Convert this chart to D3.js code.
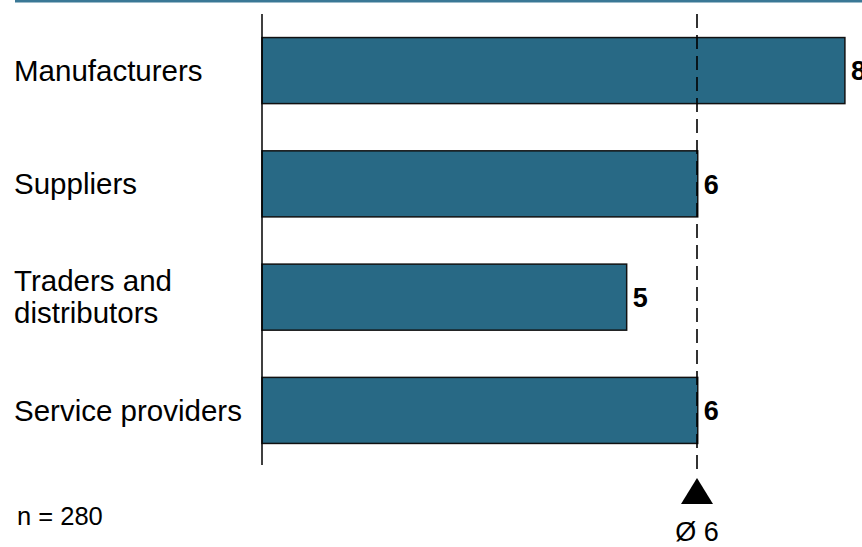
<!DOCTYPE html>
<html><head><meta charset="utf-8">
<script src="https://cdn.jsdelivr.net/npm/d3@7"></script>
<style>
html,body{margin:0;padding:0;background:#fff;}
svg{display:block;font-family:"Liberation Sans",Arial,sans-serif;}
</style></head>
<body>
<svg id="chart" width="862" height="547"></svg>
<script>
const categories = ["Manufacturers", "Suppliers", "Traders and\ndistributors", "Service providers"];
const values = [8.04, 6.01, 5.03, 6.01];
const valueLabels = ["8", "6", "5", "6"];
const average = 6;
const averageLabel = "Ø 6";
const sampleNote = "n = 280";

const svg = d3.select("#chart");
const x = d3.scaleLinear().domain([0, 6]).range([262, 697]);
const y = d3.scaleBand().domain(categories).range([14, 467]).paddingInner(0.417).paddingOuter(0.208);

// top rule
svg.append("rect").attr("x", 15).attr("y", 0).attr("width", 847).attr("height", 2.5).attr("fill", "#3a7896");

// bars
svg.selectAll("rect.bar").data(categories).join("rect")
  .attr("class","bar")
  .attr("x", x(0))
  .attr("y", d => y(d))
  .attr("width", (d,i) => x(values[i]) - x(0))
  .attr("height", y.bandwidth())
  .attr("fill", "#286985")
  .attr("stroke", "#111")
  .attr("stroke-width", 1.5);

// axis line
svg.append("line").attr("x1", x(0)).attr("x2", x(0)).attr("y1", 14).attr("y2", 465)
  .attr("stroke", "#000").attr("stroke-width", 1.5);

// average dashed line
svg.append("line").attr("x1", x(average)).attr("x2", x(average)).attr("y1", 14).attr("y2", 470)
  .attr("stroke", "#000").attr("stroke-width", 1.6).attr("stroke-dasharray", "14,7");

// triangle
const ax = x(average);
svg.append("path").attr("d", `M${ax},478 L${ax+16},504 L${ax-16},504 Z`).attr("fill", "#000");

// average label
svg.append("text").attr("x", ax).attr("y", 541).attr("text-anchor","middle")
  .attr("font-size", 27).attr("fill","#000").text(averageLabel);

// category labels
categories.forEach((c, i) => {
  const lines = c.split("\n");
  const cy = y(c) + y.bandwidth()/2;
  const lh = 32;
  const t = svg.append("text").attr("x", 14).attr("font-size", 29.5).attr("fill","#000");
  lines.forEach((ln, j) => {
    t.append("tspan").attr("x", 14)
      .attr("y", cy + (j - (lines.length-1)/2) * lh)
      .attr("dy", "0.35em").text(ln);
  });
});

// value labels
svg.selectAll("text.val").data(categories).join("text")
  .attr("class","val")
  .attr("x", (d,i) => x(values[i]) + 6)
  .attr("y", d => y(d) + y.bandwidth()/2)
  .attr("dy", "0.36em")
  .attr("font-size", 27).attr("font-weight","bold").attr("fill","#000")
  .text((d,i) => valueLabels[i]);

// sample note
svg.append("text").attr("x", 17).attr("y", 525).attr("font-size", 25.5).attr("fill","#000").text(sampleNote);
</script>
</body></html>
